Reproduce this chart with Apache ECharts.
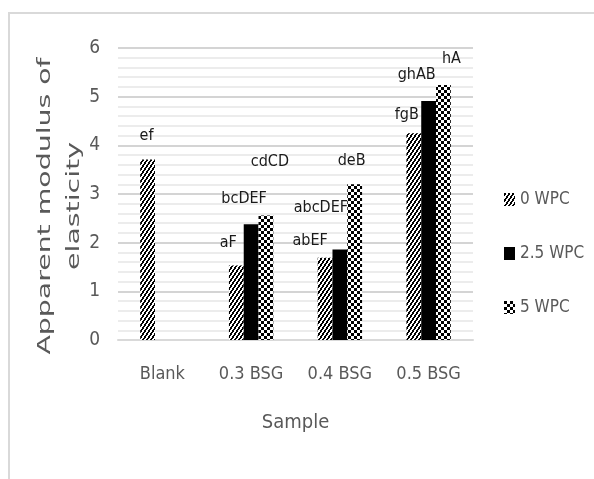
<!DOCTYPE html>
<html>
<head>
<meta charset="utf-8">
<script src="https://cdn.jsdelivr.net/npm/echarts@6/dist/echarts.min.js"></script>
<style>
html,body{margin:0;padding:0;background:#fff;}
#chart{width:594px;height:479px;}
</style>
</head>
<body>
<div id="chart"></div>
<script>
// ---- data ----
const categories = ['Blank', '0.3 BSG', '0.4 BSG', '0.5 BSG'];
const seriesNames = ['0 WPC', '2.5 WPC', '5 WPC'];
const wpc0 = [3.71, 1.53, 1.69, 4.25];
const wpc25 = [null, 2.38, 1.86, 4.91];
const wpc5 = [null, 2.56, 3.20, 5.24];
const letters0 = ['ef', 'aF', 'abEF', 'fgB'];
const letters25 = ['', 'bcDEF', 'abcDEF', 'ghAB'];
const letters5 = ['', 'cdCD', 'deB', 'hA'];
const yTicks = [0, 1, 2, 3, 4, 5, 6];

// ---- layout (label nudges, styles) ----
const labelNudge0 = [[-1, -11], [-8, -10], [-15, -4], [-7, -5]];
const labelNudge25 = [[0, 0], [-7, -12], [-19, -29], [-12, -13]];
const labelNudge5 = [[0, 0], [4, -41], [-3, -10], [8, -13]];

function makePattern(w, h, fn) {
  const c = document.createElement('canvas');
  c.width = w; c.height = h;
  const ctx = c.getContext('2d');
  ctx.fillStyle = '#ffffff';
  ctx.fillRect(0, 0, w, h);
  ctx.fillStyle = '#000000';
  for (let y = 0; y < h; y++) for (let x = 0; x < w; x++) if (fn(x, y)) ctx.fillRect(x, y, 1, 1);
  return { image: c, repeat: 'repeat' };
}
const hatch = makePattern(4, 6, (x, y) => ((x + Math.floor(y * 4 / 6)) % 4) < 2);
const checker = makePattern(6, 6, (x, y) => ((Math.floor(x / 3) + Math.floor(y / 3)) % 2) === 0);

const narrowFont = "'DejaVu Sans Condensed', 'Liberation Sans Narrow', sans-serif";

function buildData(values, letters, nudges) {
  return values.map((v, i) => ({
    value: v,
    label: {
      show: !!letters[i],
      formatter: letters[i],
      offset: nudges[i]
    }
  }));
}

const patterns = [hatch, '#000000', checker];
const valueSets = [wpc0, wpc25, wpc5];
const letterSets = [letters0, letters25, letters5];
const nudgeSets = [labelNudge0, labelNudge25, labelNudge5];

const series = seriesNames.map((name, k) => ({
  name: name,
  type: 'bar',
  barGap: '0%',
  barCategoryGap: '50%',
  itemStyle: { color: patterns[k] },
  label: {
    show: true,
    position: 'top',
    fontFamily: narrowFont,
    fontSize: 16,
    color: '#1a1a1a'
  },
  data: buildData(valueSets[k], letterSets[k], nudgeSets[k])
}));

const chart = echarts.init(document.getElementById('chart'), null, { renderer: 'canvas' });
chart.setOption({
  animation: false,
  backgroundColor: '#ffffff',
  grid: { left: 118, right: 121, top: 48, bottom: 139, containLabel: false },
  legend: {
    orient: 'vertical',
    left: 499,
    top: 186,
    icon: 'rect',
    itemWidth: 11,
    itemHeight: 13,
    itemGap: 37,
    data: seriesNames,
    textStyle: { fontFamily: narrowFont, fontSize: 17, color: '#595959' }
  },
  xAxis: {
    type: 'category',
    data: categories,
    axisTick: { show: false },
    axisLine: { show: true, lineStyle: { color: '#d9d9d9', width: 2 } },
    axisLabel: { fontFamily: narrowFont, fontSize: 18, color: '#595959', margin: 25, interval: 0 },
    name: 'Sample',
    nameLocation: 'middle',
    nameGap: 73,
    nameTextStyle: { fontFamily: narrowFont, fontSize: 20, color: '#595959' }
  },
  yAxis: {
    type: 'value',
    min: yTicks[0],
    max: yTicks[yTicks.length - 1],
    interval: 1,
    axisLine: { show: false },
    axisTick: { show: false },
    axisLabel: { fontFamily: narrowFont, fontSize: 19, color: '#595959', margin: 18 },
    splitLine: { show: true, lineStyle: { color: '#d4d4d4', width: 2 } },
    minorTick: { show: false, splitNumber: 5 },
    minorSplitLine: { show: true, lineStyle: { color: '#ececec', width: 2 } }
  },
  graphic: [
    {
      type: 'rect',
      silent: true,
      z: -10,
      shape: { x: 9, y: 13, width: 700, height: 600 },
      style: { fill: 'none', stroke: '#d9d9d9', lineWidth: 2 }
    },
    {
      type: 'text',
      x: 60,
      y: 206,
      rotation: Math.PI / 2,
      scaleX: 1.62,
      style: {
        text: 'Apparent modulus of\nelasticity',
        fontFamily: 'DejaVu Sans',
        fontSize: 17.5,
        lineHeight: 29,
        fill: '#595959',
        align: 'center',
        verticalAlign: 'middle',
        textAlign: 'center',
        textVerticalAlign: 'middle'
      }
    }
  ],
  series: series
});
</script>
</body>
</html>
